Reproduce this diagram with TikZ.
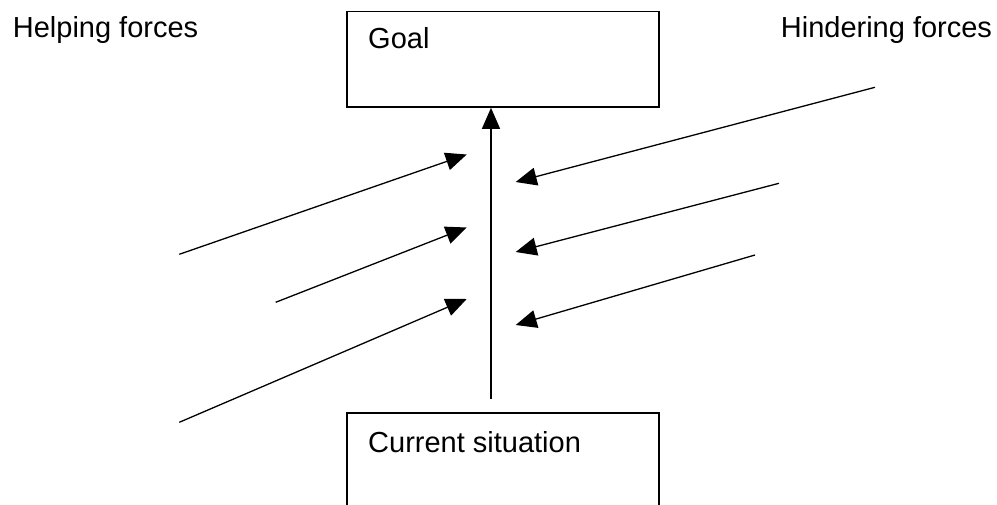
\documentclass[tikz,border=0pt]{standalone}
\usepackage{fontspec}
\setmainfont{Liberation Sans}
\usetikzlibrary{arrows.meta}
\begin{document}
\begin{tikzpicture}[x=1pt,y=-1pt,
  lbl/.style={anchor=base west,inner sep=0pt,font=\fontsize{29}{34}\selectfont},
  boxnode/.style={draw,line width=1.6pt,rectangle,inner sep=0pt},
  force/.style={line width=1.3pt,-{Triangle[length=21pt,width=18pt]}}]
\useasboundingbox (0,0) rectangle (997,505);
\clip (0,0) rectangle (997,505);
% boxes
\node[boxnode,minimum width=312pt,minimum height=95.3pt] (goal) at (503,59.35) {};
\node[boxnode,minimum width=312pt,minimum height=140pt] (cur) at (503,482.7) {};
% labels
\node[lbl] (goaltxt) at (368,49) {Goal};
\node[lbl] (curtxt) at (368,452) {Current situation};
\node[lbl] (help) at (12.7,37.7) {Helping forces};
\node[lbl] (hind) at (780.7,37.7) {Hindering forces};
% main arrow
\coordinate (vs) at (491,398.5);
\draw[force] (vs) -- (vs |- goal.south);
% helping forces
\coordinate (h1s) at (179.3,254.3); \coordinate (h1e) at (466.7,154.5);
\coordinate (h2s) at (275.7,302.3); \coordinate (h2e) at (466.7,227.5);
\coordinate (h3s) at (179.3,422.3); \coordinate (h3e) at (466.7,299);
\draw[force] (h1s) -- (h1e);
\draw[force] (h2s) -- (h2e);
\draw[force] (h3s) -- (h3e);
% hindering forces
\coordinate (r1s) at (875,87.3); \coordinate (r1e) at (515.7,182);
\coordinate (r2s) at (779,183.3); \coordinate (r2e) at (515.7,252);
\coordinate (r3s) at (755,255); \coordinate (r3e) at (515.7,325);
\draw[force] (r1s) -- (r1e);
\draw[force] (r2s) -- (r2e);
\draw[force] (r3s) -- (r3e);
\end{tikzpicture}
\end{document}
